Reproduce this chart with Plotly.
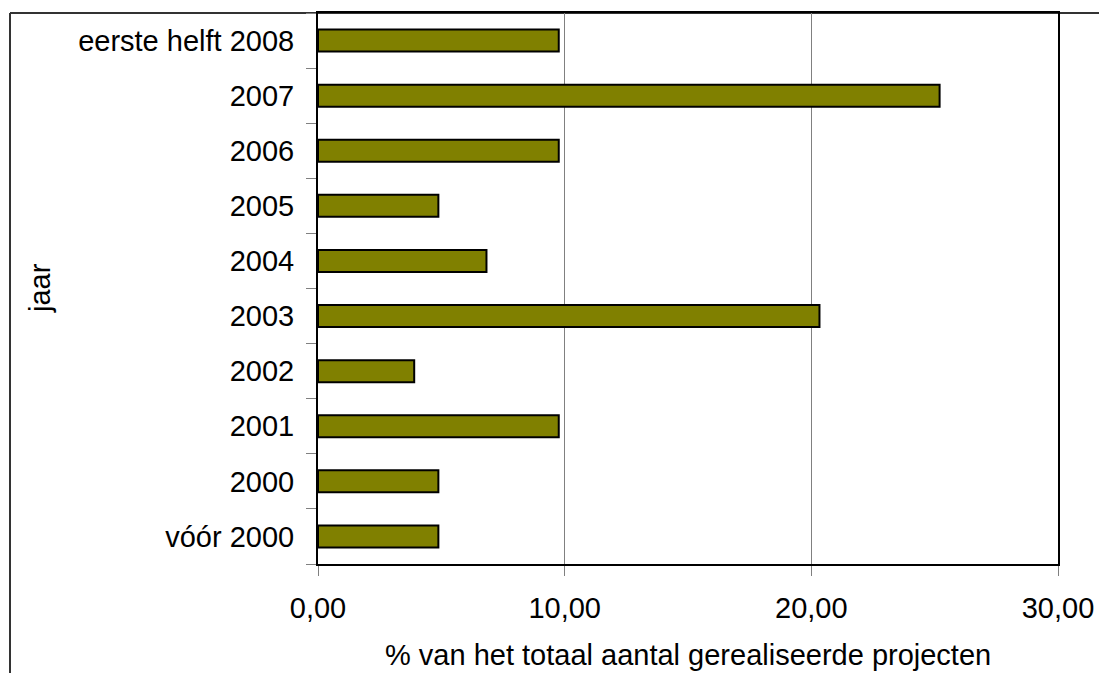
import plotly.graph_objects as go

categories = ["vóór 2000", "2000", "2001", "2002", "2003", "2004", "2005", "2006", "2007", "eerste helft 2008"]
values = [4.88, 4.88, 9.76, 3.90, 20.33, 6.83, 4.88, 9.76, 25.20, 9.76]
x_ticks = [0, 10, 20, 30]

FONT = "Liberation Sans, Arial, sans-serif"
W, H = 1099, 673
L, R, T, B = 318, 41, 13, 109
pw, ph = W - L - R, H - T - B

def px(x):
    return (x - L) / pw

def py(y):
    return (H - B - y) / ph

fig = go.Figure(go.Bar(
    y=categories, x=values, orientation="h",
    marker=dict(color="#808000", line=dict(color="black", width=2)),
))

fig.update_layout(
    template="none",
    width=W, height=H,
    margin=dict(l=L, r=R, t=T, b=B, pad=0, autoexpand=False),
    paper_bgcolor="white", plot_bgcolor="white",
    separators=",.",
    bargap=0.6,
    showlegend=False,
    font=dict(family=FONT, size=29, color="black"),
    xaxis=dict(
        range=[0, 30], tickvals=x_ticks, tickformat=".2f",
        showgrid=True, gridcolor="#808080", gridwidth=1,
        ticks="outside", ticklen=10, tickcolor="#808080", tickwidth=1,
        ticklabelstandoff=7, automargin=False,
        showline=True, linecolor="black", linewidth=2, mirror=True,
        zeroline=False, fixedrange=True,
    ),
    yaxis=dict(
        type="category", categoryorder="array", categoryarray=categories,
        tickson="boundaries", ticks="outside", ticklen=10, tickcolor="#808080", tickwidth=1,
        ticklabelstandoff=16, automargin=False,
        showgrid=False,
        showline=True, linecolor="black", linewidth=2, mirror=True,
        fixedrange=True,
    ),
    annotations=[
        dict(text="% van het totaal aantal gerealiseerde projecten", xref="paper", yref="paper",
             x=0.5, y=py(655), xanchor="center", yanchor="middle", showarrow=False,
             font=dict(family=FONT, size=29, color="black")),
        dict(text="jaar", xref="paper", yref="paper", textangle=-90,
             x=px(40), y=py(288), xanchor="center", yanchor="middle", showarrow=False,
             font=dict(family=FONT, size=29, color="black")),
    ],
    shapes=[
        dict(type="line", xref="paper", yref="paper", x0=px(10), x1=px(10), y0=py(13), y1=py(675),
             line=dict(color="#333333", width=2)),
        dict(type="line", xref="paper", yref="paper", x0=px(10), x1=px(1100), y0=py(13), y1=py(13),
             line=dict(color="#333333", width=2), layer="below"),
    ],
)

fig.write_html("out.html", config={"displayModeBar": False},
               post_script="document.body.style.margin='0';document.body.style.overflow='hidden';")
